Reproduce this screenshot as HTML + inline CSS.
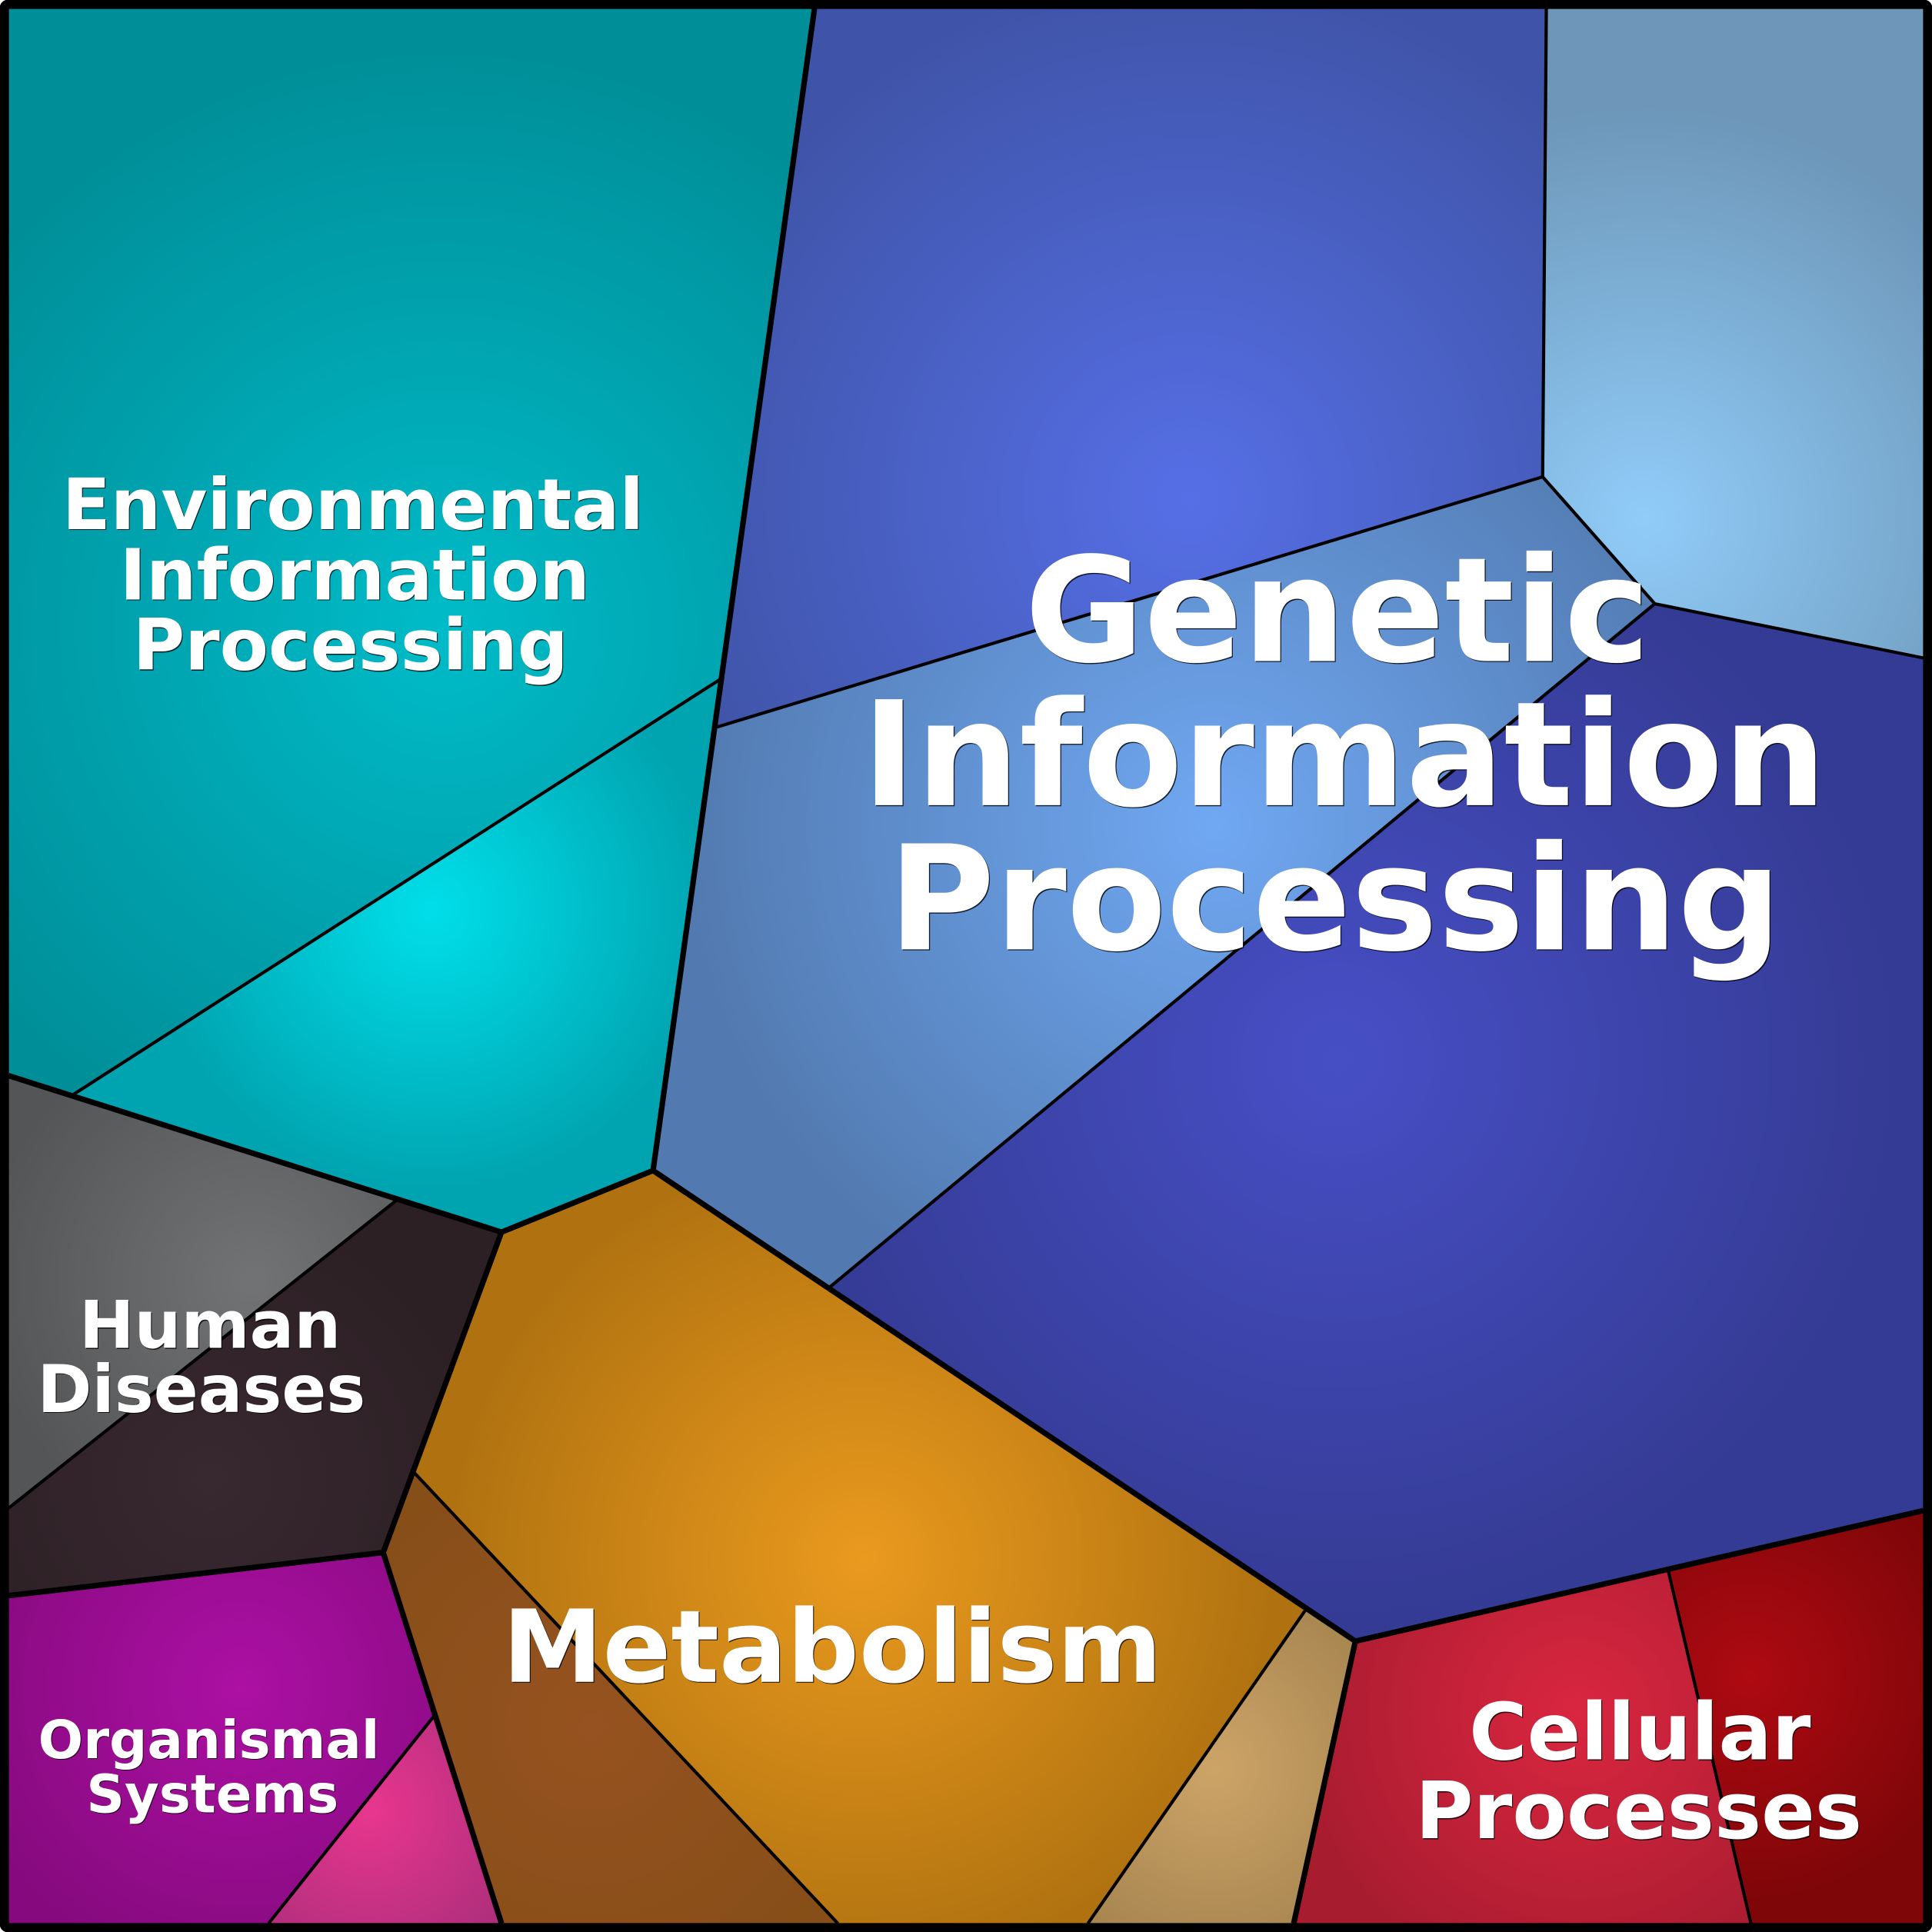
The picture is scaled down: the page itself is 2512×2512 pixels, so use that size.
<!DOCTYPE html>
<html><head><meta charset="utf-8"><style>
html,body{margin:0;padding:0;background:#fff}
svg{display:block}
text{font-family:"DejaVu Sans",sans-serif;font-weight:bold;text-anchor:middle}
.s{fill:#000;fill-opacity:.8}
.w{fill:#fff}
</style></head><body>
<svg width="2512" height="2512" viewBox="0 0 1568 1568" xmlns="http://www.w3.org/2000/svg">
<defs>
<radialGradient id="e1" gradientUnits="userSpaceOnUse" cx="360" cy="510" r="480"><stop offset="0" stop-color="#00bcc8"/><stop offset=".5" stop-color="#00a4b0"/><stop offset="1" stop-color="#008e98"/></radialGradient>
<radialGradient id="e2" gradientUnits="userSpaceOnUse" cx="350" cy="738" r="228"><stop offset="0" stop-color="#00dfea"/><stop offset="1" stop-color="#00a4b0"/></radialGradient>
<radialGradient id="g1" gradientUnits="userSpaceOnUse" cx="965" cy="405" r="430"><stop offset="0" stop-color="#566fe6"/><stop offset="1" stop-color="#3f54a8"/></radialGradient>
<radialGradient id="g2" gradientUnits="userSpaceOnUse" cx="1335" cy="420" r="335"><stop offset="0" stop-color="#90ccf8"/><stop offset="1" stop-color="#6d96b8"/></radialGradient>
<radialGradient id="g3" gradientUnits="userSpaceOnUse" cx="985" cy="670" r="430"><stop offset="0" stop-color="#70a8f2"/><stop offset="1" stop-color="#527ab0"/></radialGradient>
<radialGradient id="g4" gradientUnits="userSpaceOnUse" cx="1085" cy="860" r="455"><stop offset="0" stop-color="#474fc6"/><stop offset="1" stop-color="#343b94"/></radialGradient>
<radialGradient id="h1" gradientUnits="userSpaceOnUse" cx="205" cy="1040" r="220"><stop offset="0" stop-color="#727375"/><stop offset="1" stop-color="#545556"/></radialGradient>
<radialGradient id="h2" gradientUnits="userSpaceOnUse" cx="170" cy="1200" r="230"><stop offset="0" stop-color="#382830"/><stop offset="1" stop-color="#2c2024"/></radialGradient>
<radialGradient id="m1" gradientUnits="userSpaceOnUse" cx="700" cy="1265" r="335"><stop offset="0" stop-color="#ea9a1e"/><stop offset="1" stop-color="#b07210"/></radialGradient>
<radialGradient id="m2" gradientUnits="userSpaceOnUse" cx="480" cy="1400" r="240"><stop offset="0" stop-color="#965220"/><stop offset="1" stop-color="#864e18"/></radialGradient>
<radialGradient id="m3" gradientUnits="userSpaceOnUse" cx="985" cy="1435" r="155"><stop offset="0" stop-color="#cca468"/><stop offset="1" stop-color="#a88650"/></radialGradient>
<radialGradient id="o1" gradientUnits="userSpaceOnUse" cx="195" cy="1370" r="235"><stop offset="0" stop-color="#ac10a4"/><stop offset="1" stop-color="#860a7e"/></radialGradient>
<radialGradient id="o2" gradientUnits="userSpaceOnUse" cx="300" cy="1470" r="130"><stop offset="0" stop-color="#e8368e"/><stop offset="1" stop-color="#b02f7c"/></radialGradient>
<radialGradient id="c1" gradientUnits="userSpaceOnUse" cx="1280" cy="1390" r="230"><stop offset="0" stop-color="#da2640"/><stop offset="1" stop-color="#a81c30"/></radialGradient>
<radialGradient id="c2" gradientUnits="userSpaceOnUse" cx="1420" cy="1360" r="185"><stop offset="0" stop-color="#ae0a12"/><stop offset="1" stop-color="#7e0608"/></radialGradient>
</defs>
<rect width="1568" height="1568" rx="6" fill="#000"/>
<polygon points="7,7 661,7 585,551 60,888 7,873" fill="url(#e1)"/>
<polygon points="585,551 530,950 407,1000 60,888" fill="url(#e2)"/>
<polygon points="661,7 1255,7 1252,387 582,590" fill="url(#g1)"/>
<polygon points="1255,7 1561,7 1561,534 1343,490 1252,387" fill="url(#g2)"/>
<polygon points="582,590 1252,387 1343,490 673,1045 530,950" fill="url(#g3)"/>
<polygon points="1343,490 1561,534 1561,1226 1100,1332 673,1045" fill="url(#g4)"/>
<polygon points="7,873 322,974 7,1224" fill="url(#h1)"/>
<polygon points="322,974 407,1000 311,1260 7,1295 7,1224" fill="url(#h2)"/>
<polygon points="407,1000 530,950 1060,1306 883,1561 680,1561 336,1195" fill="url(#m1)"/>
<polygon points="336,1195 680,1561 407,1561 311,1260" fill="url(#m2)"/>
<polygon points="1060,1306 1100,1332 1050,1561 883,1561" fill="url(#m3)"/>
<polygon points="7,1295 311,1260 352,1393 218,1561 7,1561" fill="url(#o1)"/>
<polygon points="352,1393 407,1561 218,1561" fill="url(#o2)"/>
<polygon points="1100,1332 1354,1275 1421,1561 1050,1561" fill="url(#c1)"/>
<polygon points="1354,1275 1561,1226 1561,1561 1421,1561" fill="url(#c2)"/>
<g stroke="#000" stroke-width="2.6" fill="none">
<line x1="60" y1="888" x2="585" y2="551"/>
<polyline points="1255,7 1252,387 582,590"/>
<polyline points="1252,387 1343,490 1561,534"/>
<line x1="1343" y1="490" x2="673" y2="1045"/>
<line x1="322" y1="974" x2="7" y2="1224"/>
<line x1="336" y1="1195" x2="680" y2="1561"/>
<line x1="1060" y1="1306" x2="883" y2="1561"/>
<line x1="352" y1="1393" x2="218" y2="1561"/>
<line x1="1354" y1="1275" x2="1421" y2="1561"/>
</g>
<g stroke="#000" stroke-width="4.5" fill="none" stroke-linejoin="round">
<polyline points="661,7 530,950 407,1000 7,873"/>
<polyline points="530,950 1100,1332 1561,1226"/>
<polyline points="1100,1332 1050,1561"/>
<polyline points="407,1000 311,1260 7,1295"/>
<polyline points="311,1260 407,1561"/>
</g>
<rect x="3.5" y="3.5" width="1561" height="1561" rx="3" fill="none" stroke="#000" stroke-width="7.5"/>
<g font-size="57.5">
<text class="s" x="286.5" y="430.2" dx=".7">Environmental</text><text class="w" x="286.5" y="429.5">Environmental</text>
<text class="s" x="288" y="487.2" dx=".7">Information</text><text class="w" x="288" y="486.5">Information</text>
<text class="s" x="284.5" y="544.2" dx=".7">Processing</text><text class="w" x="284.5" y="543.5">Processing</text>
</g>
<g font-size="118">
<text class="s" x="1085.5" y="537.3" dx=".8">Genetic</text><text class="w" x="1085.5" y="536.5">Genetic</text>
<text class="s" x="1091" y="654.3" dx=".8">Information</text><text class="w" x="1091" y="653.5">Information</text>
<text class="s" x="1083.5" y="771.3" dx=".8">Processing</text><text class="w" x="1083.5" y="770.5">Processing</text>
</g>
<g font-size="53.4">
<text class="s" x="170.5" y="1094.7" dx=".7">Human</text><text class="w" x="170.5" y="1094">Human</text>
<text class="s" x="163.5" y="1146.7" dx=".7">Diseases</text><text class="w" x="163.5" y="1146">Diseases</text>
</g>
<g font-size="81.7">
<text class="s" x="675.5" y="1365.7" dx=".7">Metabolism</text><text class="w" x="675.5" y="1365">Metabolism</text>
</g>
<g font-size="43">
<text class="s" x="169.5" y="1427.6" dx=".6">Organismal</text><text class="w" x="169.5" y="1427">Organismal</text>
<text class="s" x="172.5" y="1471.6" dx=".6">Systems</text><text class="w" x="172.5" y="1471">Systems</text>
</g>
<g font-size="64.2">
<text class="s" x="1331" y="1428.7" dx=".7">Cellular</text><text class="w" x="1331" y="1428">Cellular</text>
<text class="s" x="1330" y="1492.7" dx=".7">Processes</text><text class="w" x="1330" y="1492">Processes</text>
</g>
</svg>
</body></html>
